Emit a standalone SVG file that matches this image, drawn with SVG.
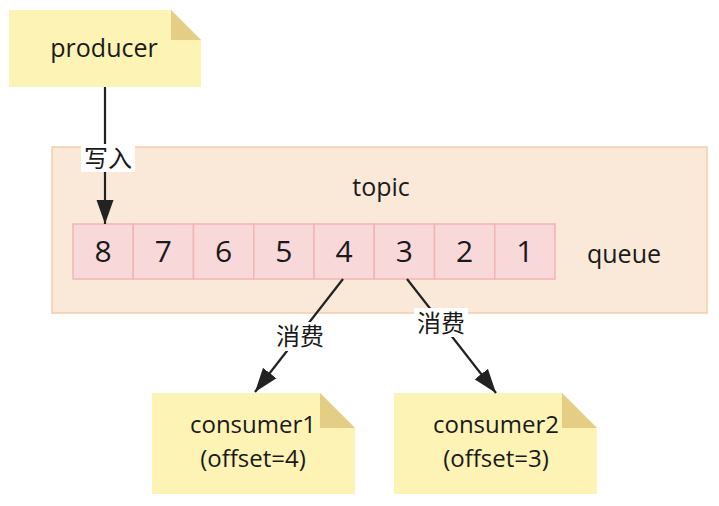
<svg xmlns="http://www.w3.org/2000/svg" width="719" height="506" viewBox="0 0 719 506">
<style>
.note{fill:#fdf3b5;}
.fold{fill:#e4cd85;}
.cell{fill:#f9d8da;stroke:#efb6b4;stroke-width:1.5;}
.t{font-family:"Open Sans","Noto Sans CJK SC",sans-serif;fill:#1a1a1a;text-anchor:middle;}
.lbl{fill:#ffffff;}
.edge{stroke:#222;stroke-width:2.2;fill:none;}
</style>
<defs>
<marker id="ah" viewBox="-24 -9 24 18" refX="0" refY="0" markerWidth="24" markerHeight="18" markerUnits="userSpaceOnUse" orient="auto">
<path d="M0,0 L-24,-8.5 L-24,8.5 z" fill="#222"/>
</marker>
</defs>
<rect width="719" height="506" fill="#ffffff"/>
<g id="topic">
<rect x="52" y="147" width="655" height="166" fill="#fae9d9" stroke="#f5cda9" stroke-width="1.5"/>
<text class="t" x="381" y="196" font-size="25">topic</text>
</g>
<g id="queue">
<rect class="cell" x="73" y="224" width="60.25" height="55"/>
<rect class="cell" x="133.25" y="224" width="60.25" height="55"/>
<rect class="cell" x="193.5" y="224" width="60.25" height="55"/>
<rect class="cell" x="253.75" y="224" width="60.25" height="55"/>
<rect class="cell" x="314" y="224" width="60.25" height="55"/>
<rect class="cell" x="374.25" y="224" width="60.25" height="55"/>
<rect class="cell" x="434.5" y="224" width="60.25" height="55"/>
<rect class="cell" x="494.75" y="224" width="60.25" height="55"/>
<g class="t" font-size="30">
<text x="103" y="262">8</text>
<text x="163.4" y="262">7</text>
<text x="223.6" y="262">6</text>
<text x="283.9" y="262">5</text>
<text x="344.1" y="262">4</text>
<text x="404.4" y="262">3</text>
<text x="464.6" y="262">2</text>
<text x="524.9" y="262">1</text>
</g>
<text class="t" x="624" y="263" font-size="25">queue</text>
</g>
<g id="producer">
<path class="note" d="M9,10 H171 L201,40 V87 H9 Z"/>
<path class="fold" d="M171,10 L201,40 H171 Z"/>
<text class="t" x="104" y="57" font-size="25">producer</text>
</g>
<g id="consumer1">
<path class="note" d="M152,393 H320 L355,428 V494 H152 Z"/>
<path class="fold" d="M320,393 L355,428 H320 Z"/>
<text class="t" x="253" y="433" font-size="24">consumer1</text>
<text class="t" x="253" y="467" font-size="24">(offset=4)</text>
</g>
<g id="consumer2">
<path class="note" d="M394,393 H562 L597,428 V494 H394 Z"/>
<path class="fold" d="M562,393 L597,428 H562 Z"/>
<text class="t" x="496" y="433" font-size="24">consumer2</text>
<text class="t" x="496" y="467" font-size="24">(offset=3)</text>
</g>
<g id="connectors">
<line class="edge" x1="105" y1="87" x2="105" y2="224" marker-end="url(#ah)"/>
<rect class="lbl" x="81" y="144" width="54" height="28"/>
<text class="t" x="108" y="167" font-size="24">写入</text>
<line class="edge" x1="343" y1="279" x2="255" y2="392" marker-end="url(#ah)"/>
<rect class="lbl" x="273" y="322" width="54" height="29"/>
<text class="t" x="300" y="345" font-size="24">消费</text>
<line class="edge" x1="407" y1="279" x2="496" y2="393" marker-end="url(#ah)"/>
<rect class="lbl" x="414" y="308" width="54" height="29"/>
<text class="t" x="441" y="332" font-size="24">消费</text>
</g>
</svg>
